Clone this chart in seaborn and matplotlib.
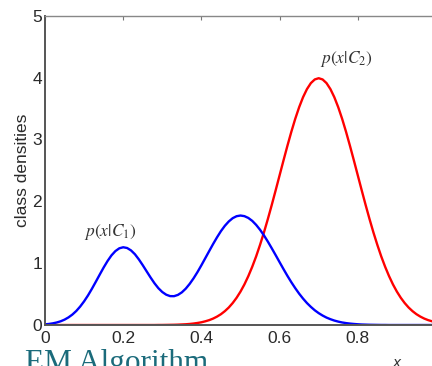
import numpy as np
import pandas as pd
import seaborn as sns
import matplotlib.pyplot as plt

x_grid = [round(0.01 * i, 2) for i in range(101)]

p_c1 = [0.011, 0.017, 0.027, 0.041, 0.060, 0.087, 0.123, 0.169, 0.227, 0.299,
        0.383, 0.479, 0.586, 0.700, 0.816, 0.930, 1.035, 1.126, 1.195, 1.240,
        1.257, 1.245, 1.206, 1.144, 1.061, 0.967, 0.867, 0.768, 0.675, 0.595,
        0.533, 0.490, 0.467, 0.466, 0.487, 0.528, 0.588, 0.665, 0.755, 0.856,
        0.966, 1.081, 1.196, 1.310, 1.418, 1.518, 1.604, 1.674, 1.727, 1.759,
        1.770, 1.760, 1.731, 1.684, 1.619, 1.540, 1.449, 1.348, 1.240, 1.129,
        1.016, 0.904, 0.795, 0.692, 0.596, 0.507, 0.427, 0.355, 0.293, 0.238,
        0.192, 0.153, 0.120, 0.094, 0.072, 0.055, 0.041, 0.031, 0.023, 0.017,
        0.012, 0.008, 0.006, 0.004, 0.003, 0.002, 0.001, 0.001, 0.0, 0.0,
        0.0, 0.0, 0.0, 0.0, 0.0, 0.0, 0.0, 0.0, 0.0, 0.0,
        0.0]

p_c2 = [0.0, 0.0, 0.0, 0.0, 0.0, 0.0, 0.0, 0.0, 0.0, 0.0,
        0.0, 0.0, 0.0, 0.0, 0.0, 0.0, 0.0, 0.0, 0.0, 0.0,
        0.0, 0.0, 0.0, 0.0, 0.0, 0.0, 0.0, 0.0, 0.0, 0.001,
        0.001, 0.002, 0.003, 0.004, 0.006, 0.009, 0.012, 0.017, 0.024, 0.033,
        0.044, 0.060, 0.079, 0.104, 0.136, 0.175, 0.224, 0.283, 0.355, 0.440,
        0.540, 0.656, 0.790, 0.941, 1.109, 1.296, 1.497, 1.714, 1.942, 2.179,
        2.420, 2.661, 2.897, 3.123, 3.333, 3.521, 3.683, 3.814, 3.911, 3.970,
        3.990, 3.970, 3.911, 3.814, 3.683, 3.521, 3.333, 3.123, 2.897, 2.661,
        2.420, 2.179, 1.942, 1.714, 1.497, 1.296, 1.109, 0.941, 0.790, 0.656,
        0.540, 0.440, 0.355, 0.283, 0.224, 0.175, 0.136, 0.104, 0.079, 0.060,
        0.044]

x_ticks = [0, 0.2, 0.4, 0.6, 0.8, 1.0]
x_tick_labels = ['0', '0.2', '0.4', '0.6', '0.8', '']   # "1" falls off the right edge
y_ticks = [0, 1, 2, 3, 4, 5]

df = pd.DataFrame({
    'x': x_grid * 2,
    'density': p_c2 + p_c1,
    'curve': ['C2'] * len(x_grid) + ['C1'] * len(x_grid),
})

sns.set_style('white')
plt.rcParams['font.family'] = ['Liberation Sans', 'DejaVu Sans']

fig = plt.figure(figsize=(4.32, 3.66), dpi=100)
ax = fig.add_axes([0.1042, 0.112, 0.905, 0.845])

# red first so the blue curve sits on top along the zero line
sns.lineplot(data=df, x='x', y='density', hue='curve', hue_order=['C2', 'C1'],
             palette={'C1': '#0000ff', 'C2': '#ff0000'}, linewidth=1.7,
             legend=False, ax=ax)

ax.set_xlim(0, 1)
ax.set_ylim(0, 5)
ax.set_xticks(x_ticks)
ax.set_xticklabels(x_tick_labels)
ax.set_yticks(y_ticks)

for side, sp in ax.spines.items():
    sp.set_visible(True)
    sp.set_color('#555555' if side in ('left', 'bottom') else '#888888')
    sp.set_linewidth(1.4 if side in ('left', 'bottom') else 1.0)

ax.tick_params(direction='in', length=3, width=0.8, colors='#777777',
               top=True, right=True, labelsize=12.5, labelcolor='#2a2a2a')
ax.tick_params(axis='x', pad=4)
ax.tick_params(axis='y', pad=2)

ax.set_ylabel('class densities', fontsize=12.5, color='#2a2a2a', labelpad=2)
ax.set_xlabel('$x$', fontsize=10, color='#333333')
ax.xaxis.set_label_coords(0.9, -0.10)

ax.text(0.166, 1.50, r'$p(x|C_1)$', fontsize=12.5, color='#333333',
        ha='center', va='center', math_fontfamily='stix')
ax.text(0.771, 4.30, r'$p(x|C_2)$', fontsize=12.5, color='#333333',
        ha='center', va='center', math_fontfamily='stix')

fig.text(0.058, -0.014, 'EM Algorithm', fontsize=22.5, color='#1b6b7b',
         family='Liberation Serif', va='baseline', ha='left')

fig.savefig('out.png', dpi=100)
